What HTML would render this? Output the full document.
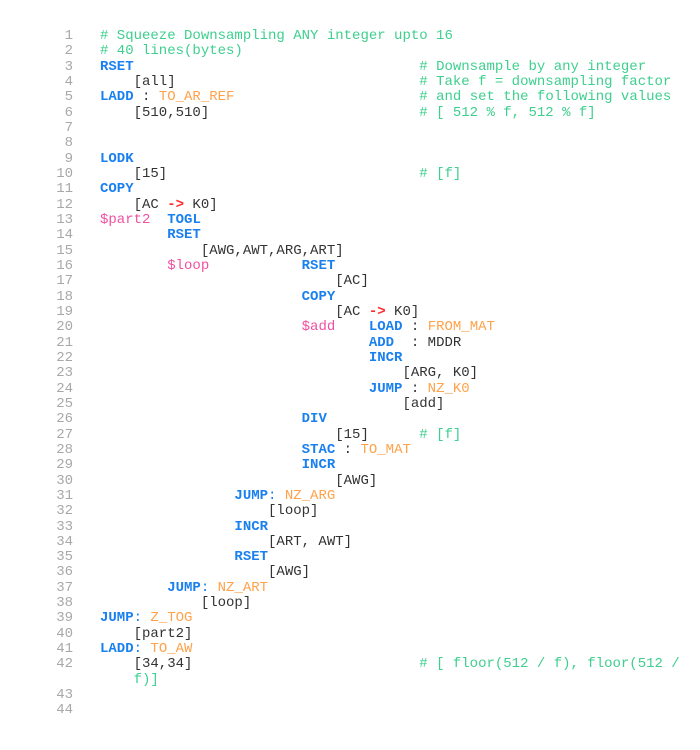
<!DOCTYPE html>
<html><head><meta charset="utf-8"><style>
html,body{margin:0;padding:0;background:#fff;width:700px;height:750px;overflow:hidden}
pre{margin:0;font-family:"Liberation Mono",monospace;font-size:14px;line-height:15.33px;position:absolute;top:29px;white-space:pre}
#nums{left:0;width:73px;text-align:right;color:#a8a8a8}
#code{left:100px;color:#333}
.k{color:#1a80f0;font-weight:bold}
.c{color:#3ecf8e}
.o{color:#ffa24a}
.p{color:#f050a0}
.r{color:#ff2a2a;font-weight:bold}
.b{color:#1a80f0}
</style></head><body>
<pre id="nums">1
2
3
4
5
6
7
8
9
10
11
12
13
14
15
16
17
18
19
20
21
22
23
24
25
26
27
28
29
30
31
32
33
34
35
36
37
38
39
40
41
42

43
44</pre>
<pre id="code"><span class="c"># Squeeze Downsampling ANY integer upto 16</span>
<span class="c"># 40 lines(bytes)</span>
<span class="k">RSET</span>                                  <span class="c"># Downsample by any integer</span>
    [all]                             <span class="c"># Take f = downsampling factor</span>
<span class="k">LADD</span> : <span class="o">TO_AR_REF</span>                      <span class="c"># and set the following values</span>
    [510,510]                         <span class="c"># [ 512 % f, 512 % f]</span>


<span class="k">LODK</span>
    [15]                              <span class="c"># [f]</span>
<span class="k">COPY</span>
    [AC <span class="r">-&gt;</span> K0]
<span class="p">$part2</span>  <span class="k">TOGL</span>
        <span class="k">RSET</span>
            [AWG,AWT,ARG,ART]
        <span class="p">$loop</span>           <span class="k">RSET</span>
                            [AC]
                        <span class="k">COPY</span>
                            [AC <span class="r">-&gt;</span> K0]
                        <span class="p">$add</span>    <span class="k">LOAD</span> : <span class="o">FROM_MAT</span>
                                <span class="k">ADD</span>  : MDDR
                                <span class="k">INCR</span>
                                    [ARG, K0]
                                <span class="k">JUMP</span> : <span class="o">NZ_K0</span>
                                    [add]
                        <span class="k">DIV</span>
                            [15]      <span class="c"># [f]</span>
                        <span class="k">STAC</span> : <span class="o">TO_MAT</span>
                        <span class="k">INCR</span>
                            [AWG]
                <span class="k">JUMP</span><span class="b">:</span> <span class="o">NZ_ARG</span>
                    [loop]
                <span class="k">INCR</span>
                    [ART, AWT]
                <span class="k">RSET</span>
                    [AWG]
        <span class="k">JUMP</span><span class="b">:</span> <span class="o">NZ_ART</span>
            [loop]
<span class="k">JUMP</span><span class="b">:</span> <span class="o">Z_TOG</span>
    [part2]
<span class="k">LADD</span><span class="b">:</span> <span class="o">TO_AW</span>
    [34,34]                           <span class="c"># [ floor(512 / f), floor(512 /</span>
    <span class="c">f)]</span>
</pre>
</body></html>
